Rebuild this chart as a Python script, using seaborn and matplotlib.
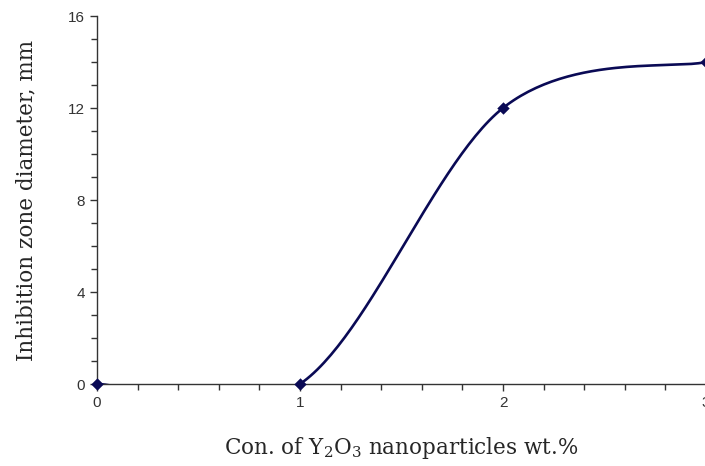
import numpy as np
import pandas as pd
import matplotlib
matplotlib.use("Agg")
import matplotlib.pyplot as plt
from matplotlib.ticker import MultipleLocator
import seaborn as sns

sns.set_style("ticks")
plt.rcParams["mathtext.fontset"] = "dejavuserif"

# data
conc = [0, 1, 2, 3]
zone = [0, 0, 12, 14]


def excel_smooth(x, y, n=60):
    # Excel-style smoothed line: cubic Bezier segments, Catmull-Rom tangents
    x = np.asarray(x, float)
    y = np.asarray(y, float)
    px, py = [], []
    for i in range(len(x) - 1):
        p0 = np.array([x[i], y[i]])
        p3 = np.array([x[i + 1], y[i + 1]])
        prev = np.array([x[i - 1], y[i - 1]]) if i > 0 else p0
        nxt = np.array([x[i + 2], y[i + 2]]) if i + 2 < len(x) else p3
        p1 = p0 + (p3 - prev) / 6
        p2 = p3 - (nxt - p0) / 6
        t = np.linspace(0, 1, n)[:, None]
        b = ((1 - t) ** 3) * p0 + 3 * ((1 - t) ** 2) * t * p1 + 3 * (1 - t) * t ** 2 * p2 + t ** 3 * p3
        px.extend(b[:, 0])
        py.extend(b[:, 1])
    return pd.DataFrame({"x": px, "y": py})


curve = excel_smooth(conc, zone)
pts = pd.DataFrame({"x": conc, "y": zone})

navy = "#0a0a55"
fig = plt.figure(figsize=(7.05, 4.66), dpi=100)
ax = fig.add_axes([97 / 705, 82 / 466, 609 / 705, 368 / 466])

sns.lineplot(data=curve, x="x", y="y", sort=False, color=navy, linewidth=1.9, ax=ax)
sns.scatterplot(data=pts, x="x", y="y", marker="D", s=40, color=navy,
                edgecolor=navy, linewidth=0, ax=ax, zorder=5, clip_on=False)

ax.set_xlim(0, 3)
ax.set_ylim(0, 16)
ax.xaxis.set_major_locator(MultipleLocator(1))
ax.xaxis.set_minor_locator(MultipleLocator(0.2))
ax.yaxis.set_major_locator(MultipleLocator(4))
ax.yaxis.set_minor_locator(MultipleLocator(1))
ax.tick_params(which="both", direction="out", color="#333333", width=1,
               labelsize=11, labelcolor="#333333")
ax.tick_params(which="major", length=5)
ax.tick_params(which="minor", length=4)
for lab in ax.get_xticklabels() + ax.get_yticklabels():
    lab.set_family("Liberation Sans")

sns.despine(ax=ax)
for s in ["left", "bottom"]:
    ax.spines[s].set_color("#333333")
    ax.spines[s].set_linewidth(1)

ax.set_xlabel("Con. of Y$_2$O$_3$ nanoparticles wt.%", family="DejaVu Serif",
              fontsize=15.5, labelpad=18)
ax.set_ylabel("Inhibition zone diameter, mm", family="DejaVu Serif",
              fontsize=15.5, labelpad=22)

fig.savefig("out.png", dpi=100)
